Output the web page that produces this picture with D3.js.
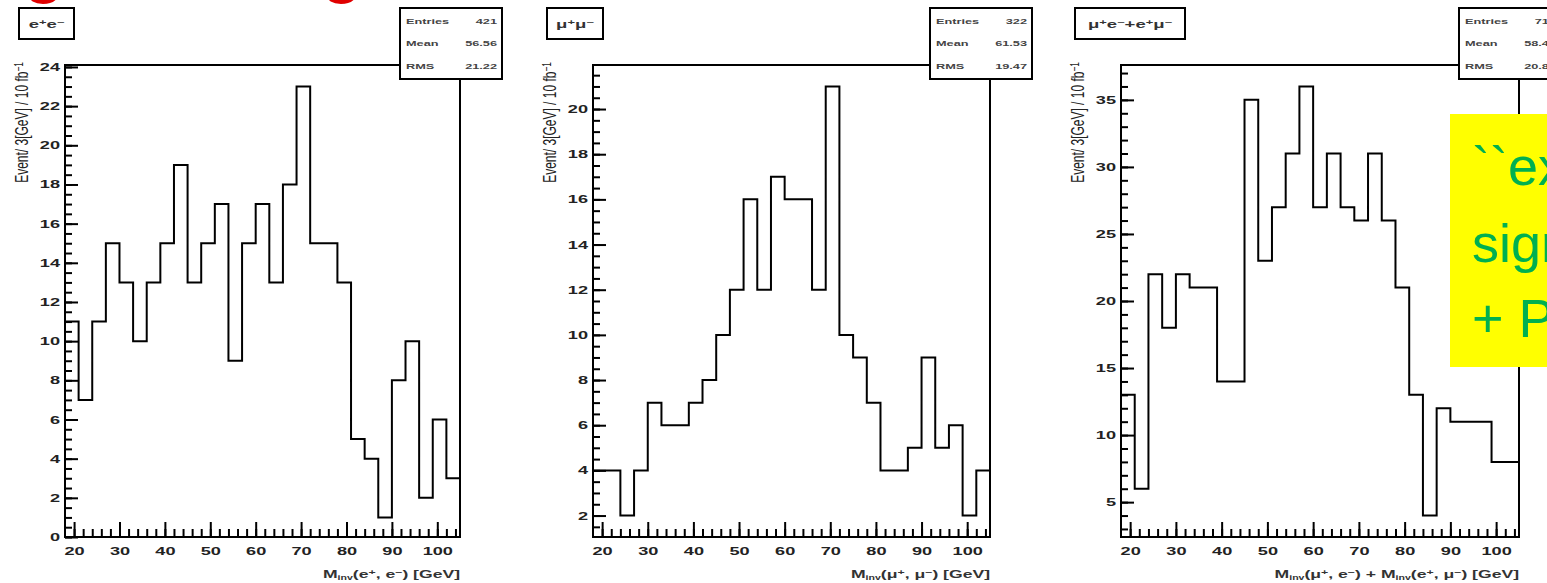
<!DOCTYPE html>
<html>
<head>
<meta charset="utf-8">
<script src="https://cdn.jsdelivr.net/npm/d3@7"></script>
<style>
body { margin: 0; background: #fff; }
svg { display: block; }
text { font-family: "Liberation Sans", Arial, Helvetica, sans-serif; }
</style>
</head>
<body>
<script>
// histogram bins, 3 GeV wide
var binEdges = [18, 21, 24, 27, 30, 33, 36, 39, 42, 45, 48, 51, 54, 57, 60, 63, 66, 69, 72, 75, 78, 81, 84, 87, 90, 93, 96, 99, 102, 105];

var eeCounts   = [11, 7, 11, 15, 13, 10, 13, 15, 19, 13, 15, 17, 9, 15, 17, 13, 18, 23, 15, 15, 13, 5, 4, 1, 8, 10, 2, 6, 3];
var mumuCounts = [4, 4, 2, 4, 7, 6, 6, 7, 8, 10, 12, 16, 12, 17, 16, 16, 12, 21, 10, 9, 7, 4, 4, 5, 9, 5, 6, 2, 4];
var emuCounts  = [13, 6, 22, 18, 22, 21, 21, 14, 14, 35, 23, 27, 31, 36, 27, 31, 27, 26, 31, 26, 21, 13, 4, 12, 11, 11, 11, 8, 8];

var xMajorTicks = [20, 30, 40, 50, 60, 70, 80, 90, 100];
var eeYTicks   = [0, 2, 4, 6, 8, 10, 12, 14, 16, 18, 20, 22, 24];
var mumuYTicks = [2, 4, 6, 8, 10, 12, 14, 16, 18, 20];
var emuYTicks  = [5, 10, 15, 20, 25, 30, 35];

var statNames = ['Entries', 'Mean', 'RMS'];
var eeStats   = ['421', '56.56', '21.22'];
var mumuStats = ['322', '61.53', '19.47'];
var emuStats  = ['716', '58.41', '20.83'];

// rich text pieces: [text, 'sup' | 'sub' | '']
var eeTitle   = [['e', ''], ['+', 'sup'], ['e', ''], ['\u2212', 'sup']];
var mumuTitle = [['\u03bc', ''], ['+', 'sup'], ['\u03bc', ''], ['\u2212', 'sup']];
var emuTitle  = [['\u03bc', ''], ['+', 'sup'], ['e', ''], ['\u2212', 'sup'], ['+e', ''], ['+', 'sup'], ['\u03bc', ''], ['\u2212', 'sup']];

var eeXLabel   = [['M', ''], ['inv', 'sub'], ['(e', ''], ['+', 'sup'], [', e', ''], ['\u2212', 'sup'], [') [GeV]', '']];
var mumuXLabel = [['M', ''], ['inv', 'sub'], ['(\u03bc', ''], ['+', 'sup'], [', \u03bc', ''], ['\u2212', 'sup'], [') [GeV]', '']];
var emuXLabel  = [['M', ''], ['inv', 'sub'], ['(\u03bc', ''], ['+', 'sup'], [', e', ''], ['\u2212', 'sup'], [') + M', ''], ['inv', 'sub'],
                  ['(e', ''], ['+', 'sup'], [', \u03bc', ''], ['\u2212', 'sup'], [') [GeV]', '']];
var yLabel = [['Event/ 3[GeV] / 10 fb', ''], ['\u22121', 'sup']];

var noteLines = ['``expected', 'signal', '+ PYTHIA'];

var W = 1547, H = 583;
var plotTop = 65, plotBottom = 537;
var panels = [
  {left: 65,  right: 460,  counts: eeCounts,   yTicks: eeYTicks,   minor: 0.5, stats: eeStats,   title: eeTitle,   titleW: 55,  xLabel: eeXLabel},
  {left: 593, right: 990,  counts: mumuCounts, yTicks: mumuYTicks, minor: 0.5, stats: mumuStats, title: mumuTitle, titleW: 56,  xLabel: mumuXLabel},
  {left: 1121, right: 1519, counts: emuCounts, yTicks: emuYTicks,  minor: 1,   stats: emuStats,  title: emuTitle,  titleW: 110, xLabel: emuXLabel}
];

var svg = d3.select('body').append('svg')
    .attr('width', W)
    .attr('height', H);

// text in the picture is squashed sideways, so stretch it
function stretch(sel, sx, sy) {
  sel.each(function() {
    var t = d3.select(this);
    var x = +t.attr('x') || 0, y = +t.attr('y') || 0;
    t.attr('x', null).attr('y', null)
      .attr('transform', 'translate(' + x + ',' + y + ') scale(' + sx + ',' + (sy || 1) + ')');
  });
}

function richText(t, parts) {
  parts.forEach(function(p) {
    var s = t.append('tspan').text(p[0]);
    if (p[1] == 'sup') s.attr('baseline-shift', '45%').attr('font-size', '70%');
    if (p[1] == 'sub') s.attr('baseline-shift', '-30%').attr('font-size', '60%');
  });
}

panels.forEach(function(p) {
  var g = svg.append('g');

  var xScale = d3.scaleLinear().domain([binEdges[0], binEdges[binEdges.length - 1]]).range([p.left, p.right]);
  var ext = d3.extent(p.counts);
  var lo = ext[0] - 0.05 * (ext[1] - ext[0]),
      hi = ext[1] + 0.05 * (ext[1] - ext[0]);
  if (lo < 0) lo = 0;
  var yScale = d3.scaleLinear().domain([lo, hi]).range([plotBottom, plotTop]);

  // histogram outline
  var pts = [[binEdges[0], lo]];
  p.counts.forEach(function(c, i) { pts.push([binEdges[i], c]); });
  pts.push([binEdges[binEdges.length - 1], p.counts[p.counts.length - 1]]);
  pts.push([binEdges[binEdges.length - 1], lo]);
  var line = d3.line()
      .x(function(d) { return xScale(d[0]); })
      .y(function(d) { return yScale(d[1]); })
      .curve(d3.curveStepAfter);
  g.append('path')
    .attr('d', line(pts))
    .attr('fill', 'none')
    .attr('stroke', '#000')
    .attr('stroke-width', 2);

  // frame
  g.append('rect')
    .attr('x', p.left).attr('y', plotTop)
    .attr('width', p.right - p.left).attr('height', plotBottom - plotTop)
    .attr('fill', 'none').attr('stroke', '#000').attr('stroke-width', 2);

  // y axis, ticks inside
  var yMinor = d3.range(Math.ceil(lo / p.minor) * p.minor, hi, p.minor);
  g.append('g').attr('transform', 'translate(' + p.left + ',0)')
    .call(d3.axisLeft(yScale).tickValues(yMinor).tickSize(-7).tickFormat(''))
    .call(function(a) { a.select('.domain').remove(); a.selectAll('line').attr('stroke-width', 2); });
  var yAx = g.append('g').attr('transform', 'translate(' + p.left + ',0)')
    .call(d3.axisLeft(yScale).tickValues(p.yTicks).tickSize(-13).tickPadding(5).tickFormat(d3.format('d')))
    .call(function(a) { a.select('.domain').remove(); a.selectAll('line').attr('stroke-width', 2); });
  yAx.selectAll('text')
    .attr('font-size', 11).attr('font-weight', 'bold').attr('fill', '#222').attr('font-family', null);
  stretch(yAx.selectAll('text'), 1.65);

  // x axis
  var xMinor = d3.range(20, 105, 2);
  g.append('g').attr('transform', 'translate(0,' + plotBottom + ')')
    .call(d3.axisBottom(xScale).tickValues(xMinor).tickSize(-8).tickFormat(''))
    .call(function(a) { a.select('.domain').remove(); a.selectAll('line').attr('stroke-width', 2); });
  var xAx = g.append('g').attr('transform', 'translate(0,' + plotBottom + ')')
    .call(d3.axisBottom(xScale).tickValues(xMajorTicks).tickSize(-15).tickPadding(10).tickFormat(d3.format('d')))
    .call(function(a) { a.select('.domain').remove(); a.selectAll('line').attr('stroke-width', 2); });
  xAx.selectAll('text')
    .attr('font-size', 11).attr('font-weight', 'bold').attr('fill', '#222').attr('font-family', null);
  stretch(xAx.selectAll('text'), 1.65);

  // axis titles
  var xt = g.append('text')
    .attr('x', p.right).attr('y', 578)
    .attr('text-anchor', 'end')
    .attr('font-size', 11).attr('font-weight', 'bold').attr('fill', '#333');
  richText(xt, p.xLabel);
  stretch(xt, 1.6);

  var yt = g.append('text')
    .attr('text-anchor', 'end')
    .attr('dy', '0.36em')
    .attr('font-size', 12).attr('fill', '#222')
    .attr('transform', 'translate(' + (p.left - 43) + ',' + 62 + ') rotate(-90) scale(1,1.5)');
  richText(yt, yLabel);

  // title box
  var tx = p.left - 46;
  g.append('rect')
    .attr('x', tx).attr('y', 8).attr('width', p.titleW).attr('height', 31)
    .attr('fill', '#fff').attr('stroke', '#000').attr('stroke-width', 2);
  var tt = g.append('text')
    .attr('x', tx + p.titleW / 2).attr('y', 28)
    .attr('text-anchor', 'middle')
    .attr('font-size', 10).attr('font-weight', 'bold').attr('fill', '#333');
  richText(tt, p.title);
  stretch(tt, 1.85);

  // stats box
  var sx = p.right - 60;
  g.append('rect')
    .attr('x', sx).attr('y', 8).attr('width', 102).attr('height', 71)
    .attr('fill', '#fff').attr('stroke', '#000').attr('stroke-width', 2);
  var rowY = [24, 46, 69];
  statNames.forEach(function(n, i) {
    var a = g.append('text').attr('x', sx + 6).attr('y', rowY[i])
      .attr('font-size', 7.5).attr('font-weight', 'bold').attr('fill', '#444').text(n);
    stretch(a, 1.7);
    var b = g.append('text').attr('x', sx + 97).attr('y', rowY[i])
      .attr('text-anchor', 'end')
      .attr('font-size', 7.5).attr('font-weight', 'bold').attr('fill', '#444').text(p.stats[i]);
    stretch(b, 1.7);
  });
});

// slide heading, only the bottoms of it are in the picture
var headingX = [44, 342];
headingX.forEach(function(x) {
  svg.append('text').attr('x', x).attr('y', -10).attr('text-anchor', 'middle')
    .attr('font-family', '"Open Sans", sans-serif').attr('font-weight', 'bold')
    .attr('font-size', 66).attr('fill', '#e00000').text('g');
});

// yellow note
svg.append('rect')
  .attr('x', 1450).attr('y', 114).attr('width', 120).attr('height', 253)
  .attr('fill', '#ffff00');
var noteY = [185, 262, 337];
noteLines.forEach(function(s, i) {
  svg.append('text')
    .attr('x', 1472).attr('y', noteY[i])
    .attr('font-family', '"Open Sans", sans-serif')
    .attr('font-size', 54).attr('fill', '#00b050')
    .text(s);
});
</script>
</body>
</html>
